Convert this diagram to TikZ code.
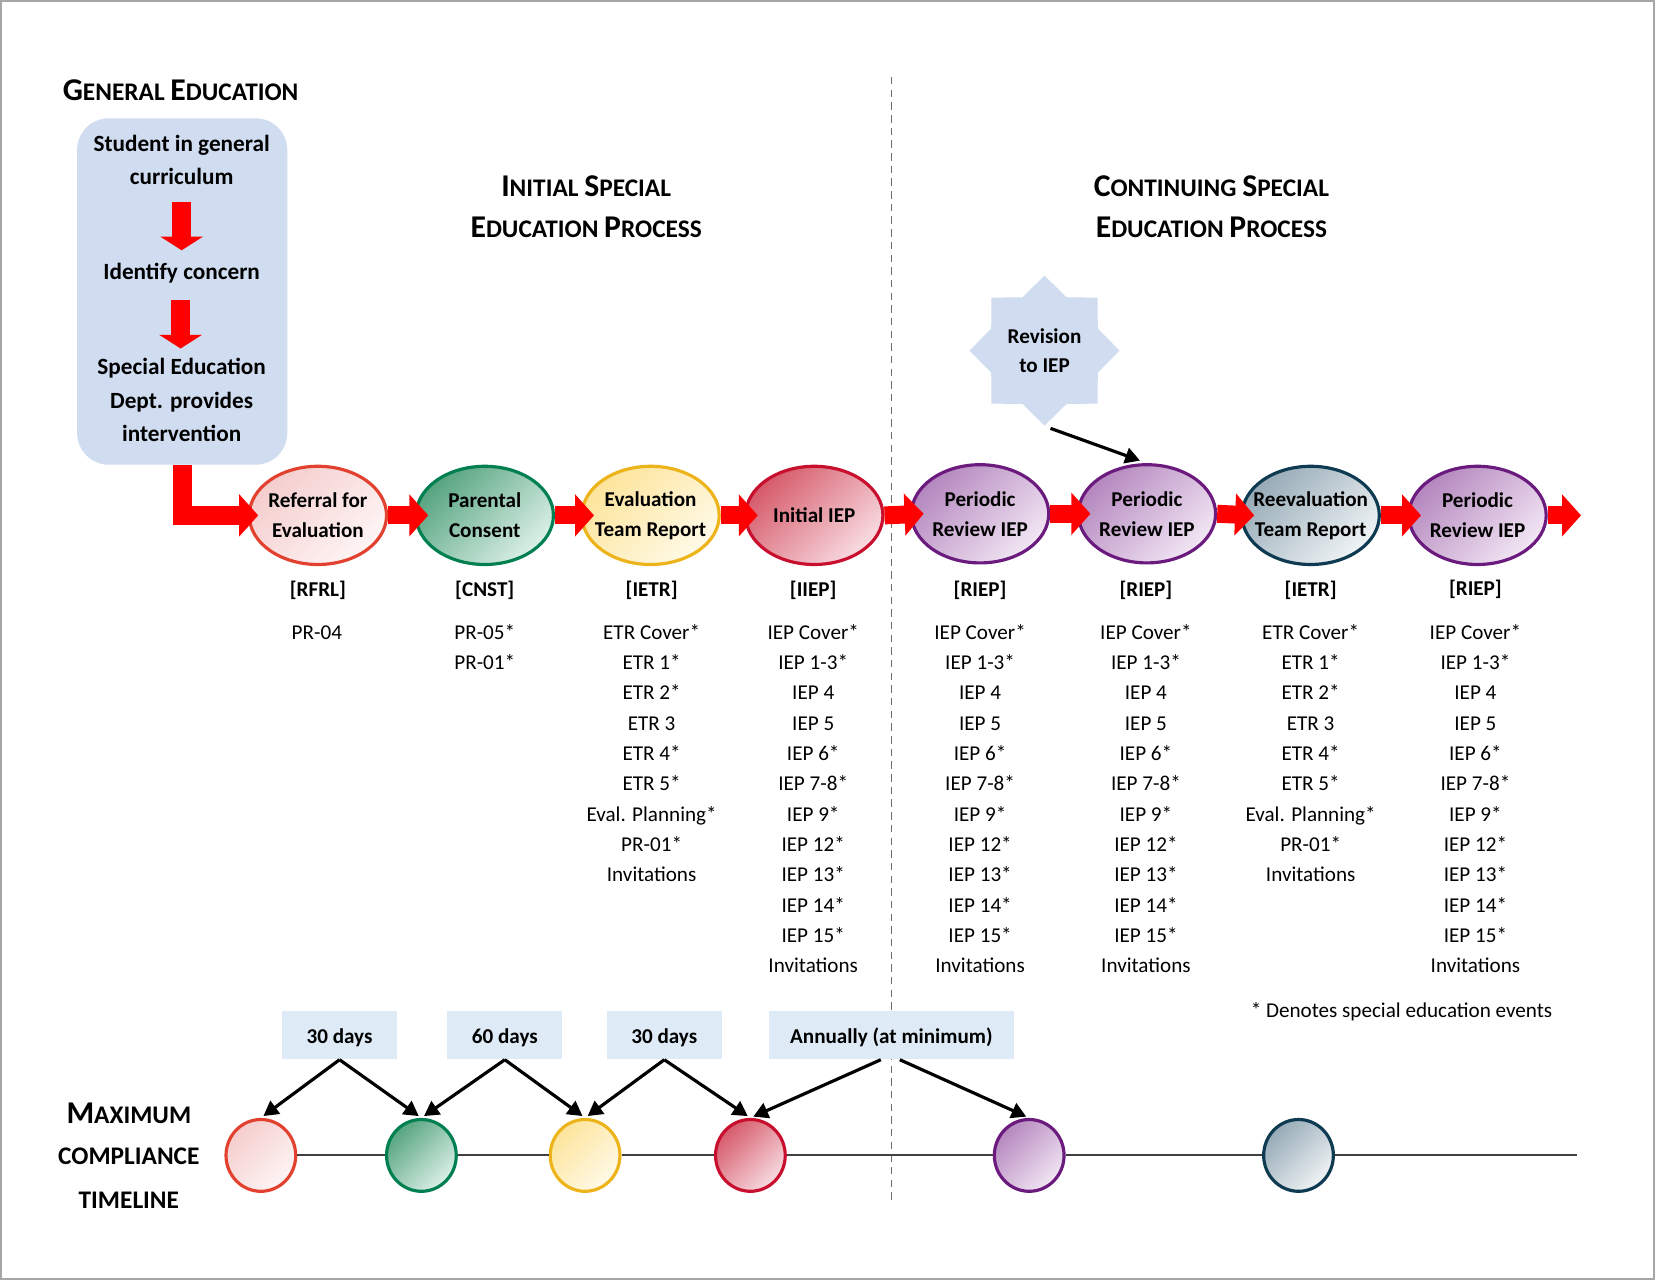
\documentclass[tikz,border=0pt]{standalone}
\usepackage{fontspec}
\setmainfont{Carlito}
\usetikzlibrary{arrows.meta,shapes.geometric}
\definecolor{frame}{RGB}{166,166,166}
\definecolor{genblue}{RGB}{208,220,240}
\definecolor{tlblue}{RGB}{222,235,247}
\definecolor{divgray}{RGB}{110,110,110}
\definecolor{aBord}{RGB}{226,65,47}\definecolor{aDark}{RGB}{245,205,205}\definecolor{aLight}{RGB}{254,245,245}
\definecolor{bBord}{RGB}{0,128,80}\definecolor{bDark}{RGB}{86,164,128}\definecolor{bLight}{RGB}{220,240,231}
\definecolor{cBord}{RGB}{237,179,26}\definecolor{cDark}{RGB}{253,228,155}\definecolor{cLight}{RGB}{255,250,232}
\definecolor{dBord}{RGB}{200,16,46}\definecolor{dDark}{RGB}{214,90,106}\definecolor{dLight}{RGB}{248,220,226}
\definecolor{pBord}{RGB}{106,27,125}\definecolor{pDark}{RGB}{180,135,190}\definecolor{pLight}{RGB}{242,230,244}
\definecolor{tBord}{RGB}{14,58,82}\definecolor{tDark}{RGB}{150,170,182}\definecolor{tLight}{RGB}{240,244,246}
\newcommand\SC[2]{{\fontsize{15}{18}\selectfont #1}#2}
\newcommand\itemcol[3]{\foreach \t [count=\i] in {#3} {\node[item] (#1-\i) at (#2,{605.3+28.7*(\i-1)}) {\t};}}
\begin{document}
\begin{tikzpicture}[x=0.5pt,y=-0.5pt,
  title/.style={font=\fontsize{12}{14}\selectfont\bfseries, inner sep=0, anchor=base},
  boxtxt/.style={font=\fontsize{11}{13}\selectfont\bfseries, inner sep=0, anchor=base},
  item/.style={font=\fontsize{10}{12}\selectfont, inner sep=0, anchor=base},
  tag/.style={font=\fontsize{10}{12}\selectfont\bfseries, inner sep=0, anchor=base},
  grad/.style n args={3}{draw=#1, top color=#2, bottom color=#3, shading angle=45},
  proc/.style={ellipse, line width=1.5pt, minimum width=65pt, minimum height=46.5pt, inner sep=-7pt,
    align=center, font=\fontsize{10}{14.2}\selectfont\bfseries},
  tc/.style={ellipse, line width=1.5pt, minimum width=33pt, minimum height=34pt, inner sep=0},
  redarr/.style={draw=red, line width=8.5pt, -{Triangle[length=9pt,width=19.5pt]}},
  blk/.style={draw=black, line width=1.5pt, -{Triangle[length=7pt,width=7.5pt]}, shorten >=1.5pt},
  tlbox/.style={fill=tlblue, inner sep=0, minimum height=23pt, text height=8.4pt, text depth=0pt,
    font=\fontsize{10}{12}\selectfont\bfseries},
]
\useasboundingbox (0,0) rectangle (1568,1213);
\draw[frame, line width=1pt] (1,1) rectangle (1566,1211);

% divider
\coordinate (dtop) at (844,73);
\coordinate (dbot) at (844,1140);
\draw[divgray, line width=0.75pt, dash pattern=on 3.5pt off 2.5pt] (dtop) -- (dbot);

% titles
\node[title] (ge) at (171,95.5) {\SC{G}{ENERAL} \SC{E}{DUCATION}};
\node[title] (is1) at (555,186) {\SC{I}{NITIAL} \SC{S}{PECIAL}};
\node[title] (is2) at (555,225) {\SC{E}{DUCATION} \SC{P}{ROCESS}};
\node[title] (cs1) at (1147,186) {\SC{C}{ONTINUING} \SC{S}{PECIAL}};
\node[title] (cs2) at (1147,225) {\SC{E}{DUCATION} \SC{P}{ROCESS}};
\node[title] (mx1) at (122,1064) {\SC{M}{AXIMUM}};
\node[title] (mx2) at (122,1103) {COMPLIANCE};
\node[title] (mx3) at (122,1144.5) {TIMELINE};

% general education box
\node[fill=genblue, rounded corners=15pt, minimum width=99.5pt, minimum height=164pt, inner sep=0] (gen) at (172.5,276) {};
\node[boxtxt] (g1) at (172,143) {Student in general};
\node[boxtxt] (g2) at (172,175) {curriculum};
\node[boxtxt] (g3) at (172,265) {Identify concern};
\node[boxtxt] (g4) at (172,355) {Special Education};
\node[boxtxt] (g5) at (172,387) {Dept. provides};
\node[boxtxt] (g6) at (172,418) {intervention};
\coordinate (ga1) at (172,191);
\coordinate (ga1e) at (172,237);
\coordinate (ga2) at (171,284);
\coordinate (ga2e) at (171,330);
\draw[draw=red, line width=9pt, -{Triangle[length=6.5pt,width=20pt]}] (ga1) -- (ga1e);
\draw[draw=red, line width=9pt, -{Triangle[length=6.5pt,width=20pt]}] (ga2) -- (ga2e);

% process ellipses
\node[proc, grad={aBord}{aDark}{aLight}] (e1) at (301,488) {Referral for\\Evaluation};
\node[proc, grad={bBord}{bDark}{bLight}] (e2) at (459,488) {Parental\\Consent};
\node[proc, grad={cBord}{cDark}{cLight}] (e3) at (616,488) {Evaluation\\Team Report};
\node[proc, grad={dBord}{dDark}{dLight}] (e4) at (771,488) {Initial IEP};
\node[proc, grad={pBord}{pDark}{pLight}] (e5) at (928,486.5) {Periodic\\Review IEP};
\node[proc, grad={pBord}{pDark}{pLight}] (e6) at (1086,486.5) {Periodic\\Review IEP};
\node[proc, grad={tBord}{tDark}{tLight}] (e7) at (1241,488) {Reevaluation\\Team Report};
\node[proc, grad={pBord}{pDark}{pLight}] (e8) at (1399,488) {Periodic\\Review IEP};
\coordinate (eend) at (1497,488);

% red connectors
\draw[redarr, line width=9pt, line join=miter] (gen.south) |- ([xshift=5pt]e1.west);
\draw[redarr] (e1.east) -- ([xshift=6.5pt]e2.west);
\draw[redarr] (e2.east) -- ([xshift=6.5pt]e3.west);
\draw[redarr] (e3.east) -- ([xshift=6.5pt]e4.west);
\draw[redarr] (e4.east) -- ([xshift=6.5pt]e5.west);
\draw[redarr] (e5.east) -- ([xshift=6.5pt]e6.west);
\draw[redarr] (e6.east) -- ([xshift=6.5pt]e7.west);
\draw[redarr] (e7.east) -- ([xshift=6.5pt]e8.west);
\draw[redarr] (e8.east) -- (eend);

% tags
\node[tag] (k1) at (301,565) {[RFRL]};
\node[tag] (k2) at (459,565) {[CNST]};
\node[tag] (k3) at (617,565) {[IETR]};
\node[tag] (k4) at (770,565) {[IIEP]};
\node[tag] (k5) at (928,565) {[RIEP]};
\node[tag] (k6) at (1085,565) {[RIEP]};
\node[tag] (k7) at (1241,565) {[IETR]};
\node[tag] (k8) at (1397,564) {[RIEP]};

% form lists
\itemcol{la}{300}{PR-04}
\itemcol{lb}{459}{PR-05*,PR-01*}
\itemcol{lc}{617}{ETR Cover*,ETR 1*,ETR 2*,ETR 3,ETR 4*,ETR 5*,Eval. Planning*,PR-01*,Invitations}
\itemcol{ld}{770}{IEP Cover*,IEP 1-3*,IEP 4,IEP 5,IEP 6*,IEP 7-8*,IEP 9*,IEP 12*,IEP 13*,IEP 14*,IEP 15*,Invitations}
\itemcol{le}{928}{IEP Cover*,IEP 1-3*,IEP 4,IEP 5,IEP 6*,IEP 7-8*,IEP 9*,IEP 12*,IEP 13*,IEP 14*,IEP 15*,Invitations}
\itemcol{lf}{1085}{IEP Cover*,IEP 1-3*,IEP 4,IEP 5,IEP 6*,IEP 7-8*,IEP 9*,IEP 12*,IEP 13*,IEP 14*,IEP 15*,Invitations}
\itemcol{lg}{1241}{ETR Cover*,ETR 1*,ETR 2*,ETR 3,ETR 4*,ETR 5*,Eval. Planning*,PR-01*,Invitations}
\itemcol{lh}{1397}{IEP Cover*,IEP 1-3*,IEP 4,IEP 5,IEP 6*,IEP 7-8*,IEP 9*,IEP 12*,IEP 13*,IEP 14*,IEP 15*,Invitations}
\node[item] (note) at (1327,963) {* Denotes special education events};

% revision star
\node[star, star points=8, star point ratio=1.3, minimum size=71pt, inner sep=0, fill=genblue,
  align=center, font=\fontsize{10}{13.75}\selectfont\bfseries] (rev) at (989,332) {Revision\\to IEP};
\draw[blk, shorten <=3pt, shorten >=3.5pt] (rev.south) -- (e6.north);

% timeline boxes
\node[tlbox, minimum width=54.5pt] (b1) at (321.5,980) {30 days};
\node[tlbox, minimum width=54.5pt] (b2) at (478,980) {60 days};
\node[tlbox, minimum width=54.5pt] (b3) at (629,980) {30 days};
\node[tlbox, minimum width=116pt] (b4) at (844,980) {Annually (at minimum)};

% timeline circles
\node[tc, grad={aBord}{aDark}{aLight}] (c1) at (247,1094) {};
\node[tc, grad={bBord}{bDark}{bLight}] (c2) at (399,1094) {};
\node[tc, grad={cBord}{cDark}{cLight}] (c3) at (554,1094) {};
\node[tc, grad={dBord}{dDark}{dLight}] (c4) at (710.5,1094) {};
\node[tc, grad={pBord}{pDark}{pLight}] (c5) at (974.5,1094) {};
\node[tc, grad={tBord}{tDark}{tLight}] (c6) at (1229.5,1094) {};
\coordinate (tend) at (1493,1094);
\draw[black!75, line width=1pt] (c1.east) -- (c2.west) (c2.east) -- (c3.west) (c3.east) -- (c4.west)
  (c4.east) -- (c5.west) (c5.east) -- (c6.west) (c6.east) -- (tend);

% timeline arrows
\draw[blk] (b1.south) -- (c1.north);
\draw[blk] (b1.south) -- (c2.north);
\draw[blk] (b2.south) -- (c2.north);
\draw[blk] (b2.south) -- (c3.north);
\draw[blk] (b3.south) -- (c3.north);
\draw[blk] (b3.south) -- (c4.north);
\draw[blk] ([xshift=-5pt]b4.south) -- (c4.north);
\draw[blk] ([xshift=4pt]b4.south) -- (c5.north);
\end{tikzpicture}
\end{document}
